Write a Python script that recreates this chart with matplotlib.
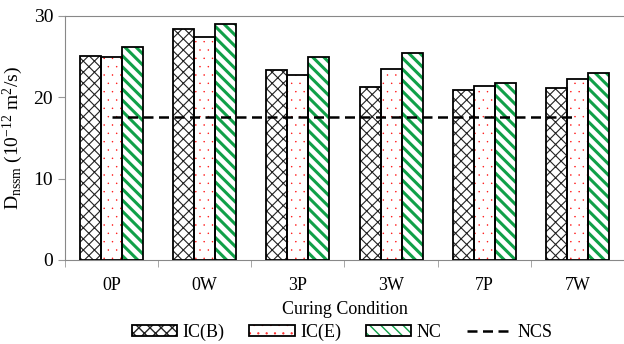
import matplotlib
matplotlib.use("Agg")
import matplotlib.pyplot as plt
import matplotlib.hatch as mhatch
import numpy as np
from matplotlib.patches import Patch
from matplotlib.lines import Line2D
from matplotlib.legend_handler import HandlerTuple

categories = ["0P", "0W", "3P", "3W", "7P", "7W"]
ic_b = [25.1, 28.45, 23.4, 21.3, 20.9, 21.1]
ic_e = [25.0, 27.4, 22.7, 23.5, 21.4, 22.3]
nc = [26.2, 29.0, 24.9, 25.5, 21.8, 23.0]
ncs = 17.6

# smaller dots for the dotted hatch
mhatch.SmallFilledCircles.size = 0.05

plt.rcParams['font.family'] = ['Liberation Serif', 'DejaVu Serif']
plt.rcParams['mathtext.fontset'] = 'custom'
plt.rcParams['mathtext.rm'] = 'Liberation Serif'
plt.rcParams['mathtext.it'] = 'Liberation Serif'

fig = plt.figure(figsize=(6.24, 3.44), dpi=100)
ax = fig.add_axes([65/624, 84/344, 559/624, 244/344])

x = np.arange(len(categories))
w = 0.225
series = [
    (ic_b, "IC(B)", "#222222", "xxx", 0.8),
    (ic_e, "IC(E)", "#ff2020", "..", 0.5),
    (nc, "NC", "#10a048", "\\\\\\", 2.2),
]
handles = []
for i, (vals, lab, hc, hatch, hlw) in enumerate(series):
    pos = x + (i - 1) * w
    b1 = ax.bar(pos, vals, w, color="white", edgecolor=hc, hatch=hatch, linewidth=0, zorder=2)
    for p in b1:
        if hasattr(p, "set_hatch_linewidth"):
            p.set_hatch_linewidth(hlw)
    ax.bar(pos, vals, w, fill=False, edgecolor="black", linewidth=1.3, zorder=3)
    hp = Patch(facecolor="white", edgecolor=hc, hatch=hatch, linewidth=0)
    if hasattr(hp, "set_hatch_linewidth"):
        hp.set_hatch_linewidth(hlw)
    bp = Patch(fill=False, edgecolor="black", linewidth=1.3)
    handles.append(((hp, bp), lab))

ax.plot([x[0], x[-1]], [ncs, ncs], ls=(0, (4, 2.2)), color="black", lw=1.8, zorder=4)

ax.set_xlim(-0.5, len(categories) - 0.5)
ax.set_ylim(0, 30)
ax.set_yticks([0, 10, 20, 30])
ax.set_xticks(x)
ax.set_xticklabels(categories)
ax.set_xticks(np.arange(-0.5, len(categories)), minor=True)
ax.tick_params(axis='x', which='major', length=0, pad=12, labelsize=13)
ax.tick_params(axis='x', which='minor', length=5, color="#999999")
ax.tick_params(axis='y', length=5, color="#999999", labelsize=14)
for s in ["left", "bottom", "top"]:
    ax.spines[s].set_color("#888888")
ax.spines["right"].set_visible(False)

ax.set_xlabel("Curing Condition", fontsize=13, labelpad=5)
ax.set_ylabel(r"D$_{\mathrm{nssm}}$ (10$^{\mathrm{-12}}$ m$^{2}$/s)", fontsize=14, labelpad=6)

hl = [h for h, l in handles] + [Line2D([], [], ls=(0, (4, 2.2)), color="black", lw=1.8)]
ll = [l for h, l in handles] + ["NCS"]
fig.legend(hl, ll, handler_map={tuple: HandlerTuple(ndivide=1)}, loc="center",
           bbox_to_anchor=(342/624, 1 - 332/344), ncol=4, frameon=False, fontsize=13,
           handlelength=2.5, handletextpad=0.3, columnspacing=1.4, handleheight=0.55)

fig.savefig("out.png", dpi=100)
